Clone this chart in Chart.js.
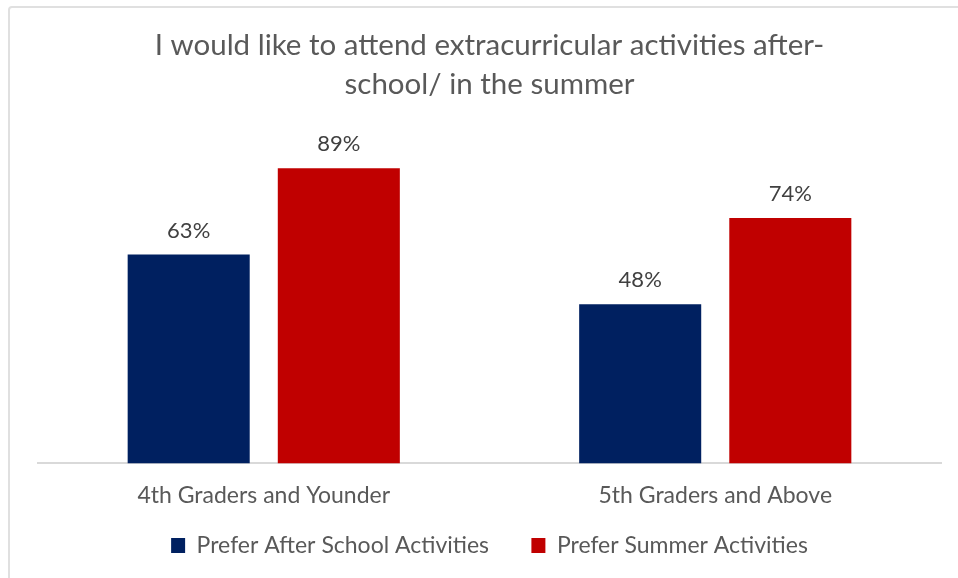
<!DOCTYPE html>
<html>
<head>
<meta charset="utf-8">
<script src="https://cdn.jsdelivr.net/npm/chart.js@4.4.1/dist/chart.umd.min.js"></script>
<style>
  html, body { margin: 0; padding: 0; background: #fff; overflow: hidden; }
  #frame { position: absolute; left: 8px; top: 6px; width: 1000px; height: 640px; border: 2px solid #e0e0e0; border-radius: 4px; }
  #wrap { position: absolute; left: 0; top: 0; width: 958px; height: 578px; }
</style>
</head>
<body>
<div id="frame"></div>
<div id="wrap"><canvas id="chart"></canvas></div>
<script>
// --- DATOS ---
const categorias = ['4th Graders and Younder', '5th Graders and Above'];
const serieNombres = ['Prefer After School Activities', 'Prefer Summer Activities'];
const afterSchool = [63, 48];
const summer = [89, 74];
const colores = ['#002060', '#C00000'];

const fuente = 'Lato, "Open Sans", sans-serif';

// etiquetas de valor encima de cada barra
const etiquetasPlugin = {
    id: 'etiquetas',
    afterDatasetsDraw(chart) {
        const ctx = chart.ctx;
        ctx.save();
        ctx.font = '22px ' + fuente;
        ctx.fillStyle = '#404040';
        ctx.textAlign = 'center';
        ctx.textBaseline = 'middle';
        chart.data.datasets.forEach((ds, i) => {
            chart.getDatasetMeta(i).data.forEach((bar, j) => {
                ctx.fillText(ds.data[j] + '%', bar.x, bar.y - 24);
            });
        });
        ctx.restore();
    }
};

new Chart(document.getElementById('chart'), {
    type: 'bar',
    data: {
        labels: categorias,
        datasets: [
            { label: serieNombres[0] + '\u00a0\u00a0\u00a0\u00a0\u00a0\u00a0', data: afterSchool, backgroundColor: colores[0] },
            { label: serieNombres[1], data: summer, backgroundColor: colores[1] }
        ]
    },
    options: {
        responsive: true,
        maintainAspectRatio: false,
        animation: false,
        categoryPercentage: 0.665,
        barPercentage: 0.813,
        layout: { padding: { left: 38, right: 17, top: 26, bottom: 11 } },
        scales: {
            x: {
                grid: { display: false, drawTicks: false },
                border: { display: true, color: '#d9d9d9', width: 2 },
                ticks: { color: '#595959', font: { family: fuente, size: 23 }, padding: 18 }
            },
            y: { display: false, min: 0, max: 100 }
        },
        plugins: {
            title: {
                display: true,
                text: ['I would like to attend extracurricular activities after-', 'school/ in the summer'],
                color: '#595959',
                font: { family: fuente, size: 29.5, weight: 'normal', lineHeight: 1.32 },
                padding: { top: 0, bottom: 28 }
            },
            legend: {
                position: 'bottom',
                labels: {
                    color: '#595959',
                    font: { family: fuente, size: 23 },
                    boxWidth: 14,
                    boxHeight: 15,
                    padding: 7
                }
            },
            tooltip: { enabled: false }
        }
    },
    plugins: [etiquetasPlugin]
});
</script>
</body>
</html>
